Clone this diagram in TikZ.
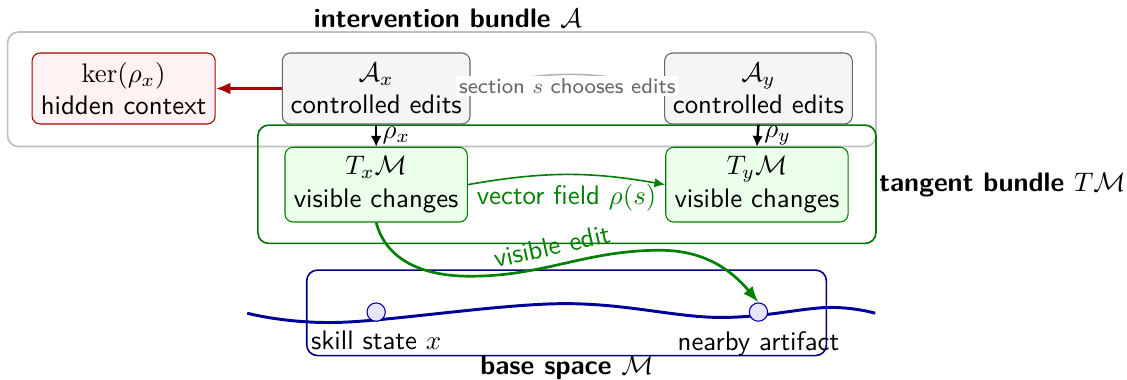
\documentclass[tikz,border=0pt]{standalone}
\usepackage{amsmath}
\usetikzlibrary{arrows.meta, calc}
\renewcommand{\familydefault}{\sfdefault}
\tikzset{editbox/.style = {draw=black!60, fill=gray!8, rounded corners=3pt, align=center, minimum width=2.46cm, minimum height=0.93cm, inner sep=2pt}}
\tikzset{kerbox/.style = {editbox, draw=red!65!black, fill=red!5, minimum width=2.40cm}}
\tikzset{tanbox/.style = {editbox, draw=green!50!black, fill=green!8, minimum width=2.39cm, minimum height=0.98cm}}
\tikzset{ptnode/.style = {circle, draw=blue!60!black, fill=blue!10, minimum size=0.24cm, inner sep=0pt, label distance=1pt}}
\tikzset{frame/.style = {rounded corners=4pt, line width=0.6pt}}

\begin{document}
\begin{tikzpicture}
\useasboundingbox (0,0) rectangle (14.77,4.97);
\draw[frame, draw=gray!50] (0.10,3.05) rectangle (11.48,4.55);
\draw[frame, draw=green!45!black] (3.38,1.78) rectangle (11.48,3.33);
\draw[frame, draw=blue!50!black] (4.02,0.31) rectangle (10.83,1.43);
\node[font=\bfseries] (intitle) at (5.87,4.73) {intervention bundle $\mathcal{A}$};
\node[font=\bfseries, anchor=west] (tantitle) at (11.40,2.54) {tangent bundle \mdseries$T\mathcal{M}$};
\node[font=\bfseries] (basetitle) at (7.43,0.15) {base space \mdseries$\mathcal{M}$};
\node[kerbox] (ker) at (1.62,3.81) {$\ker(\rho_x)$\\hidden context};
\node[editbox] (Ax) at (4.93,3.81) {$\mathcal{A}_x$\\controlled edits};
\node[editbox] (Ay) at (9.94,3.81) {$\mathcal{A}_y$\\controlled edits};
\node[tanbox] (Tx) at (4.93,2.55) {$T_x\mathcal{M}$\\visible changes};
\node[tanbox] (Ty) at (9.92,2.55) {$T_y\mathcal{M}$\\visible changes};
\draw[blue!60!black, line width=1.1pt] plot[smooth, tension=0.6] coordinates {(3.24,0.865) (4.45,0.745) (7.34,0.99) (9.40,0.81) (10.84,0.94) (11.47,0.865)};
\node[ptnode, label={below:skill state $x$}] (sx) at (4.93,0.88) {};
\node[ptnode, label={below:nearby artifact}] (art) at (9.94,0.88) {};
\coordinate (dip) at (6.16,1.35);
\coordinate (crest) at (8.65,1.69);
\draw[red!65!black, line width=1.2pt, -{Latex[length=5.5pt, width=4.5pt]}] (Ax.west) -- (ker.east);
\draw[line width=0.9pt, -{Latex[length=4pt, width=4pt]}] (Ax.south) -- node[right, inner sep=2pt] {$\rho_x$} (Tx.north);
\draw[line width=0.9pt, -{Latex[length=4pt, width=4pt]}] (Ay.south) -- node[right, inner sep=2pt] {$\rho_y$} (Ty.north);
\draw[green!50!black, line width=0.6pt, -{Latex[length=4pt, width=3.5pt]}] (Tx.east) to[bend left=10] node[below, text=green!50!black] {vector field $\rho(s)$} (Ty.west);
\draw[green!50!black, line width=1pt, -{Latex[length=6pt, width=4.5pt]}] (Tx.south) to[out=-75, in=180] (dip) to[out=0, in=180] node[sloped, above, pos=0.45] {visible edit} (crest) to[out=0, in=130] (art.north);
\draw[gray!60, line width=0.6pt, -{Latex}] (Ax.east) to[bend left=14] node[below, fill=white, inner sep=1pt, font=\footnotesize, text=black!60] {section $s$ chooses edits} (Ay.west);
\end{tikzpicture}
\end{document}
